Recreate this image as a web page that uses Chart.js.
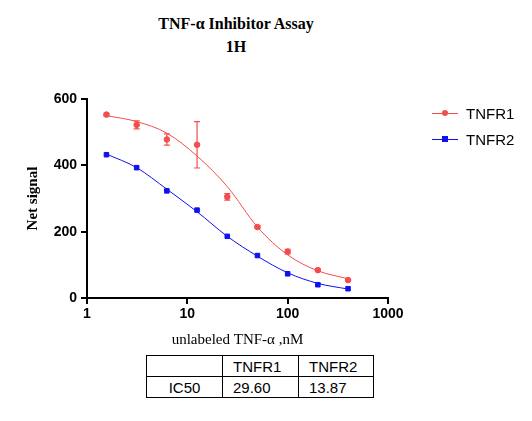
<!DOCTYPE html>
<html><head><meta charset="utf-8">
<script src="https://cdn.jsdelivr.net/npm/chart.js@4"></script>
<style>
body{margin:0;background:#fff;width:532px;height:421px;position:relative;overflow:hidden;font-family:"Liberation Sans",Arial,sans-serif}
#t{position:absolute;top:12px;left:0;width:472px;text-align:center;font-family:"Liberation Serif","Times New Roman",serif;font-weight:bold;font-size:16px;line-height:23px}
#lg{position:absolute;left:432px;top:100px;font-size:15px}
#lg div{height:26px;display:flex;align-items:center}
#lg span.l{display:inline-block;width:26px;height:1px;position:relative;margin-right:8px}
#lg span.m{position:absolute;left:10px;top:-3px;width:6px;height:6px}
table{position:absolute;left:146px;top:355px;border-collapse:collapse;font-size:15px}
td{border:1px solid #000;height:20px;padding:0 10px;text-align:left}
</style></head><body>
<div id="t">TNF-α Inhibitor Assay<br>1H</div>
<canvas id="c" width="532" height="353" style="position:absolute;left:0;top:0"></canvas>
<div id="lg">
<div><span class="l" style="background:#f24e4e"><span class="m" style="background:#f24e4e;border-radius:50%"></span></span>TNFR1</div>
<div><span class="l" style="background:#1010f0"><span class="m" style="background:#1010f0"></span></span>TNFR2</div>
</div>
<table><tr><td style="width:55px"></td><td style="width:55px">TNFR1</td><td style="width:54px">TNFR2</td></tr>
<tr><td style="text-align:center">IC50</td><td>29.60</td><td>13.87</td></tr></table>
<script>
const conc=[1.5625,3.125,6.25,12.5,25,50,100,200,400];
const tnfr1=[553,522,478,462,305,214,140,84,54];
const tnfr1Err=[4,12,17,70,10,4,7,3,3];
const tnfr1Fit=[550,532,497,428,336,214,130,82,58];
const tnfr2=[432,393,323,265,186,128,73,40,28];
const tnfr2Fit=[434,393,328,260,186,126,76,44,27];
const R='#f24e4e',B='#1010f0';
const pts=(v)=>conc.map((x,i)=>({x,y:v[i]}));
const errPlugin={id:'err',afterDatasetsDraw(ch){const c=ch.ctx,xs=ch.scales.x,ys=ch.scales.y;c.save();c.strokeStyle=R;c.lineWidth=1.2;
conc.forEach((x,i)=>{const px=xs.getPixelForValue(x),a=ys.getPixelForValue(tnfr1[i]-tnfr1Err[i]),b=ys.getPixelForValue(tnfr1[i]+tnfr1Err[i]);
c.beginPath();c.moveTo(px,a);c.lineTo(px,b);c.moveTo(px-3,a);c.lineTo(px+3,a);c.moveTo(px-3,b);c.lineTo(px+3,b);c.stroke();});c.restore();}};
const axf={family:'"Liberation Sans",Arial,sans-serif',size:14,weight:'bold'};
new Chart(document.getElementById('c'),{type:'scatter',
data:{datasets:[
{data:pts(tnfr1Fit),showLine:true,borderColor:R,borderWidth:1,pointRadius:0,cubicInterpolationMode:'monotone'},
{data:pts(tnfr2Fit),showLine:true,borderColor:B,borderWidth:1,pointRadius:0,cubicInterpolationMode:'monotone'},
{data:pts(tnfr1),showLine:false,backgroundColor:R,borderColor:R,pointRadius:2.8,pointStyle:'circle'},
{data:pts(tnfr2),showLine:false,backgroundColor:B,borderColor:B,pointRadius:3.2,pointStyle:'rect'}]},
options:{animation:false,responsive:false,layout:{padding:{left:20,top:99,right:144,bottom:0}},
plugins:{legend:{display:false},tooltip:{enabled:false}},
scales:{
x:{type:'logarithmic',min:1,max:1000,afterFit:s=>{s.height=55},afterBuildTicks:s=>{s.ticks=[1,10,100,1000].map(v=>({value:v}))},
ticks:{color:'#000',font:axf,callback:v=>String(v),padding:2},
grid:{drawOnChartArea:false,tickLength:6,color:'#000',lineWidth:2},border:{color:'#000',width:2},
title:{display:true,text:'unlabeled TNF-α ,nM',color:'#000',font:{family:'"Liberation Serif",serif',size:15},padding:{top:4}}},
y:{min:0,max:600,afterFit:s=>{s.width=67},ticks:{stepSize:200,color:'#000',font:axf,padding:4},
grid:{drawOnChartArea:false,tickLength:6,color:'#000',lineWidth:2},border:{color:'#000',width:2},
title:{display:true,text:'Net signal',color:'#000',font:{family:'"Liberation Serif",serif',size:15,weight:'bold'}}}}},
plugins:[errPlugin]});
</script></body></html>
